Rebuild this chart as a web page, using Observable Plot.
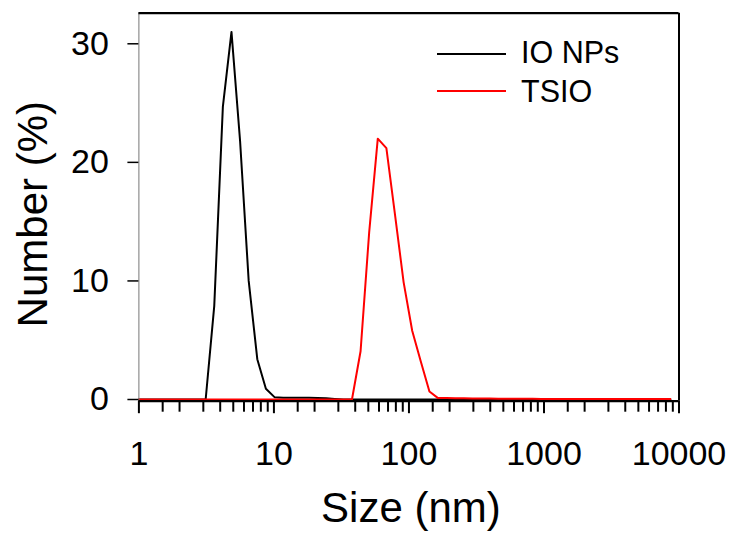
<!DOCTYPE html>
<html>
<head>
<meta charset="utf-8">
<script src="https://cdn.jsdelivr.net/npm/d3@7"></script>
<script src="https://cdn.jsdelivr.net/npm/@observablehq/plot@0.6"></script>
<style>
  body { margin: 0; background: #fff; }
  #wrap { position: relative; width: 734px; height: 536px; font-family: "Liberation Sans", Arial, sans-serif; }
  .leg { position: absolute; left: 0; top: 0; }
  .leg-row { position: absolute; white-space: nowrap; font-size: 30.5px; color: #000; }
  .leg-line { position: absolute; height: 2px; }
</style>
</head>
<body>
<div id="wrap"></div>
<script>
// Size bins (nm), DLS distribution
const sizes = [0.9649, 1.117, 1.294, 1.499, 1.736, 2.010, 2.328, 2.696, 3.122, 3.615,
  4.187, 4.849, 5.615, 6.503, 7.531, 8.721, 10.10, 11.70, 13.54, 15.69,
  18.17, 21.04, 24.36, 28.21, 32.67, 37.84, 43.82, 50.75, 58.77, 68.06,
  78.82, 91.28, 105.7, 122.4, 141.8, 164.2, 190.1, 220.2, 255.0, 295.3,
  342.0, 396.1, 458.7, 531.2, 615.1, 712.4, 825.0, 955.4, 1106, 1281,
  1484, 1718, 1990, 2305, 2669, 3091, 3580, 4145, 4801, 5560,
  6439, 7456, 8635];

const ioNPs = [0, 0, 0, 0, 0, 0, 0, 0, 0, 7.9,
  24.7, 31.0, 21.8, 10.0, 3.4, 0.9, 0.2, 0.15, 0.15, 0.15,
  0.15, 0.12, 0.1, 0.05, 0, 0, 0, 0, 0, 0,
  0, 0, 0, 0, 0, 0, 0, 0, 0, 0,
  0, 0, 0, 0, 0, 0, 0, 0, 0, 0,
  0, 0, 0, 0, 0, 0, 0, 0, 0, 0,
  0, 0, 0];

const tsio = [0, 0, 0, 0, 0, 0, 0, 0, 0, 0,
  0, 0, 0, 0, 0, 0, 0, 0, 0, 0,
  0, 0, 0, 0, 0, 0, 4.07, 14.1, 22.0, 21.2,
  15.6, 9.9, 5.8, 3.2, 0.67, 0.12, 0.12, 0.1, 0.1, 0.08,
  0.08, 0.08, 0.07, 0.07, 0.06, 0.06, 0.06, 0.05, 0.05, 0.05,
  0.05, 0.05, 0.05, 0.05, 0.05, 0.05, 0.05, 0.05, 0.05, 0.05,
  0.05, 0.05, 0.05];

const seriesNames = ["IO NPs", "TSIO"];
const seriesColors = ["#000000", "#ff0000"];

const majorTicks = [1, 10, 100, 1000, 10000];
const minorMult = [1.5, 2, 3, 4, 5, 6, 7, 8, 9];
const yTicks = [0, 10, 20, 30];

const xDomain = [1, 10000];
const yDomain = [-0.143, 32.58];

const minorTicks = [];
for (const m of majorTicks.slice(0, -1)) for (const k of minorMult) minorTicks.push(m * k);

const rows = [];
sizes.forEach((s, i) => {
  rows.push({size: s, value: ioNPs[i], series: seriesNames[0]});
});
sizes.forEach((s, i) => {
  rows.push({size: s, value: tsio[i], series: seriesNames[1]});
});

const chart = Plot.plot({
  width: 734,
  height: 536,
  marginLeft: 138.4,
  marginRight: 55.5,
  marginTop: 12.7,
  marginBottom: 135.3,
  style: {fontFamily: "'Liberation Sans', Arial, sans-serif", background: "#fff", color: "#000"},
  x: {type: "log", domain: xDomain, label: null},
  y: {domain: yDomain, label: null},
  color: {domain: seriesNames, range: seriesColors},
  marks: [
    Plot.lineY(rows.filter(d => d.series === seriesNames[0]), {x: "size", y: "value", stroke: seriesColors[0], strokeWidth: 2, clip: true}),
    Plot.lineY(rows.filter(d => d.series === seriesNames[1]), {x: "size", y: "value", stroke: seriesColors[1], strokeWidth: 2, clip: true}),
    Plot.ruleX([xDomain[0]], {stroke: "#777", strokeWidth: 1}),
    Plot.ruleX([xDomain[1]], {stroke: "#000", strokeWidth: 2}),
    Plot.ruleY([yDomain[1]], {stroke: "#000", strokeWidth: 2.2}),
    Plot.ruleY([yDomain[0]], {stroke: "#000", strokeWidth: 2.2}),
    Plot.axisY(yTicks, {anchor: "left", tickSize: 11, tickPadding: 19, fontSize: 34, strokeWidth: 1.5, label: null, tickFormat: d => String(d)}),
    Plot.axisX(minorTicks, {anchor: "bottom", tickSize: 11, strokeWidth: 2, label: null, tickFormat: () => ""}),
    Plot.axisX(majorTicks, {anchor: "bottom", tickSize: 12.5, tickPadding: 27, fontSize: 34, strokeWidth: 2, label: null, tickFormat: d => String(d)}),
    Plot.text(["Size (nm)"], {frameAnchor: "bottom", textAnchor: "middle", lineAnchor: "bottom", dy: 121, dx: 2, fontSize: 42}),
    Plot.text(["Number (%)"], {frameAnchor: "left", textAnchor: "middle", lineAnchor: "bottom", rotate: -90, dx: -92, dy: 7, fontSize: 42})
  ]
});

const wrap = document.getElementById("wrap");
wrap.appendChild(chart);

// legend overlay
const leg = document.createElement("div");
leg.className = "leg";
const legRows = [{y: 54.3, base: 65}, {y: 91, base: 103.3}];
seriesNames.forEach((name, i) => {
  const line = document.createElement("div");
  line.className = "leg-line";
  line.style.left = "436.7px";
  line.style.width = "69px";
  line.style.top = (legRows[i].y - 1) + "px";
  line.style.background = seriesColors[i];
  leg.appendChild(line);
  const t = document.createElement("div");
  t.className = "leg-row";
  t.textContent = name;
  t.style.left = "521px";
  t.style.top = (legRows[i].base - 30.5 * 0.905) + "px";
  t.style.lineHeight = "1";
  leg.appendChild(t);
});
wrap.appendChild(leg);
</script>
</body>
</html>
